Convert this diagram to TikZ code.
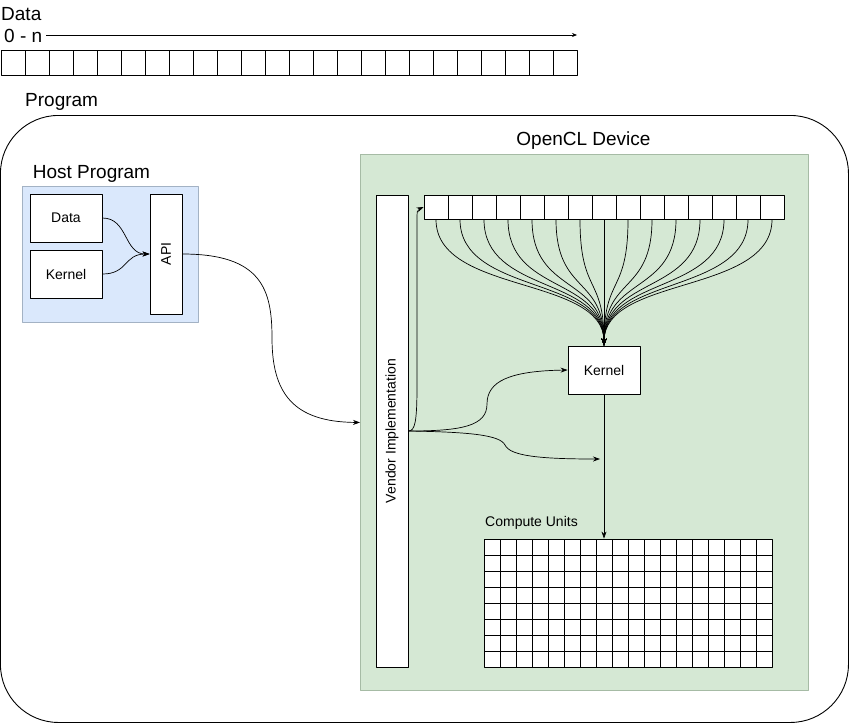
\documentclass[tikz,border=0pt]{standalone}
\usepackage{fontspec}
\setmainfont{Liberation Sans}
\usetikzlibrary{arrows.meta}
\definecolor{hostfill}{HTML}{DAE8FC}
\definecolor{hostline}{HTML}{A3B2C4}
\definecolor{devfill}{HTML}{D5E8D4}
\definecolor{devline}{HTML}{A6BBA5}
\begin{document}
\begin{tikzpicture}[x=1pt, y=-1pt, line join=round, line cap=round, >={Stealth[length=7pt,width=5pt]},
	title/.style={font=\fontsize{19}{22}\selectfont, inner sep=0pt},
	caption/.style={font=\fontsize{14}{16}\selectfont, inner sep=0pt},
	box/.style={draw, fill=white, line width=0.9pt, inner sep=0pt, font=\fontsize{14}{16}\selectfont},
	cell/.style={box, minimum size=24},
	unit/.style={box, minimum size=16},
	link/.style={->, line width=0.7pt}]
	\useasboundingbox (0,0) rectangle (850,724);
	% containers
	\node[draw, line width=0.9pt, rounded corners=58, minimum width=848, minimum height=607, anchor=north west] (program) at (0,115) {};
	\node[fill=hostfill, draw=hostline, line width=0.9pt, minimum width=176, minimum height=136, anchor=north west] (host) at (22,186) {};
	\node[fill=devfill, draw=devline, line width=0.9pt, minimum width=448, minimum height=536, anchor=north west] (device) at (360,154) {};
	% titles
	\node[title, anchor=west] (datatitle) at (1,14) {Data};
	\node[title, anchor=west] (range) at (4,36) {0 - n};
	\node[title, anchor=west] (progtitle) at (25,102) {Program};
	\node[title] (hosttitle) at (91.5,174) {Host Program};
	\node[title] (devtitle) at (583.5,141) {OpenCL Device};
	% data strip
	\coordinate (rangeend) at (577,35);
	\draw[->, >={Stealth[length=5pt,width=4pt]}, line width=0.7pt] (range.east |- rangeend) ++(4,0) -- (rangeend);
	\foreach \i in {0,...,23}
		{\node[cell, minimum height=25] (d\i) at ({13+24*\i},62.5) {};}
	% host program
	\node[box, minimum width=72, minimum height=48] (hdata) at (66,218) {Data};
	\node[box, minimum width=72, minimum height=48] (hkernel) at (66,274) {Kernel};
	\node[box, minimum width=32, minimum height=120] (api) at (166,254) {};
	\node[caption, rotate=90] (apitext) at (api) {API};
	\draw[link] (hdata.east) .. controls (128,218) and (124,254) .. (api.west);
	\draw[link] (hkernel.east) .. controls (128,274) and (124,254) .. (api.west);
	\draw[link] (api.east) .. controls (262,254) and (272,290) .. (272,338) .. controls (272,392) and (292,422) .. (device.west);
	% device
	\node[box, minimum width=32, minimum height=472] (vendor) at (392,431) {};
	\node[caption, rotate=90] (vendortext) at (vendor) {Vendor Implementation};
	\foreach \i in {0,...,14}
		{\node[cell] (s\i) at ({436+24*\i},207) {};}
	\node[box, minimum width=72, minimum height=48] (dkernel) at (604,370) {Kernel};
	\foreach \i in {0,...,14}
		{\draw[link] (s\i.south) .. controls +(0,75) and +(0,-70) .. (dkernel.north);}
	\draw[link] (vendor.east) .. controls (415,431) and (417,422) .. (417,385) -- (417,224) .. controls (417,210) .. (s0.west);
	\draw[link] (vendor.east) .. controls (462,431) and (487,426) .. (487,404) .. controls (487,381) and (510,371) .. (dkernel.west);
	\coordinate (loose) at (600,459);
	\draw[link] (vendor.east) .. controls (470,432) and (500,435) .. (505,445) .. controls (510,456) and (540,459) .. (loose);
	% compute units
	\node[caption, anchor=west] (cutitle) at (485,523) {Compute Units};
	\foreach \r in {0,...,7}
		\foreach \c in {0,...,17}
			{\node[unit] (u\r-\c) at ({492+16*\c},{547+16*\r}) {};}
	\draw[link] (dkernel.south) -- (u0-7.north);
\end{tikzpicture}
\end{document}
